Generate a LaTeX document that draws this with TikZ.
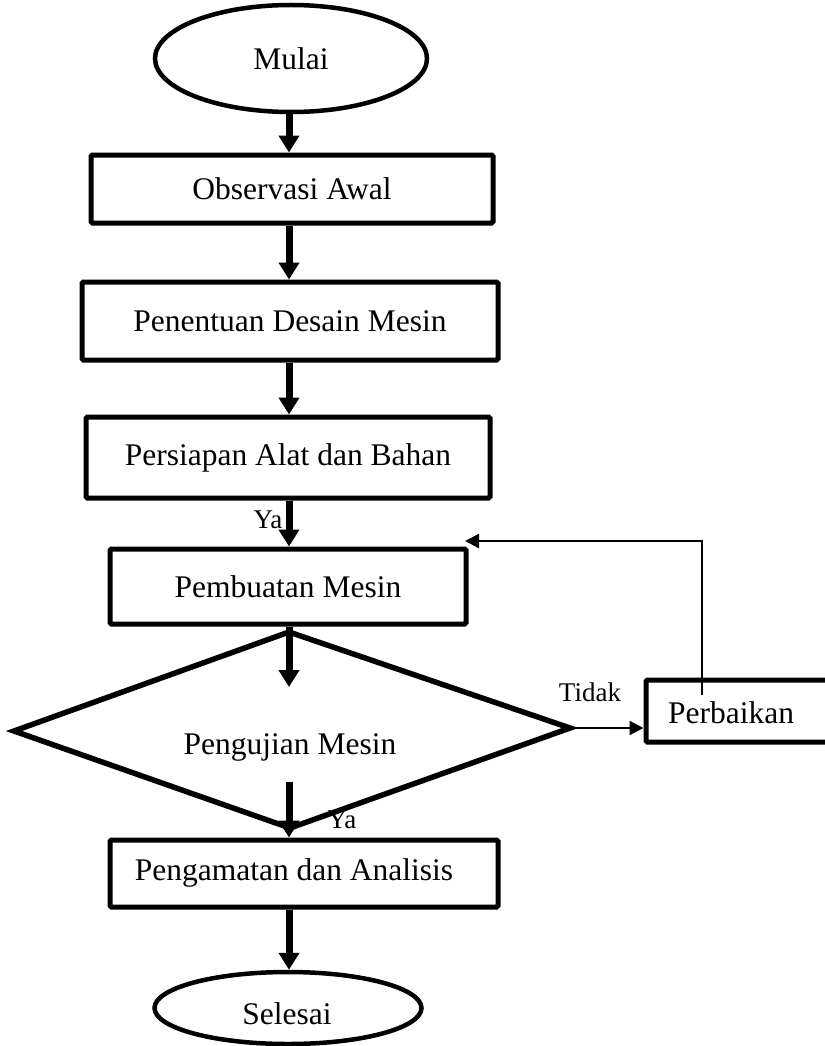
\documentclass[tikz,border=0pt]{standalone}
\usepackage{fontspec}
\setmainfont{Liberation Serif}
\usetikzlibrary{arrows.meta,shapes.geometric}
\begin{document}
\begin{tikzpicture}[x=1pt,y=-1pt,
  every node/.style={font=\fontsize{31.5}{36}\selectfont},
  procbox/.style={draw, line width=5pt, rounded corners=1.5pt, inner sep=0pt},
  term/.style={draw, ellipse, line width=4.5pt, inner sep=0pt},
  flow/.style={line width=7pt, -{Triangle[width=20pt,length=17pt]}},
  thinflow/.style={line width=2.2pt, -{Triangle[width=14pt,length=14pt]}},
  lbl/.style={font=\fontsize{27}{30}\selectfont, inner sep=0pt},
  txt/.style={inner sep=0pt}]
\useasboundingbox (0,0) rectangle (824,1046);
\coordinate (axis) at (289,0);

% terminals and process boxes
\node[term, minimum width=272, minimum height=107] (mulai) at (291,58.5) {Mulai};
\node[procbox, minimum width=402, minimum height=68] (obs) at (292,189) {Observasi Awal};
\node[procbox, minimum width=416, minimum height=78] (pen) at (290,321) {Penentuan Desain Mesin};
\node[procbox, minimum width=404, minimum height=81] (per) at (288,457.5) {Persiapan Alat dan Bahan};
\node[procbox, minimum width=356, minimum height=75] (pem) at (288,586.5) {Pembuatan Mesin};
\node[procbox, minimum width=388, minimum height=67] (pga) at (304,873.5) {};
\node[txt] (pgatext) at (294,873) {Pengamatan dan Analisis};
\node[procbox, minimum width=184, minimum height=62] (perb) at (738,711) {};
\node[txt] (perbtext) at (731,713) {Perbaikan};
\node[term, minimum width=267, minimum height=72] (sel) at (288,1008) {};
\node[txt] (seltext) at (287,1014) {Selesai};

% decision diamond
\coordinate (dtop) at (289,632);
\coordinate (dright) at (570,728);
\coordinate (dbot) at (290,828);
\coordinate (dleft) at (14,731);
\draw[line width=5.5pt, line join=miter] (dtop) -- (dright) -- (dbot) -- (dleft) -- cycle;
\node[txt] (dtext) at (290,747) {Pengujian Mesin};

% main flow arrows
\draw[flow] (mulai.south -| axis) -- (obs.north -| axis);
\draw[flow] (obs.south -| axis) -- (pen.north -| axis);
\draw[flow] (pen.south -| axis) -- (per.north -| axis);
\draw[flow] (per.south -| axis) -- (pem.north -| axis);
\coordinate (a5end) at (289,687);
\draw[flow] (pem.south -| axis) -- (a5end);
\coordinate (a6start) at (289,782);
\draw[flow] (a6start) -- (pga.north -| axis);
\draw[flow] (pga.south -| axis) -- (sel.north -| axis);

% No branch and feedback
\draw[thinflow] (dright) -- (dright -| perb.west);
\coordinate (fb) at (702,695);
\coordinate (ret) at (465,541);
\draw[thinflow] (fb) |- (ret);

% labels
\node[lbl] (ya1) at (268,520) {Ya};
\node[lbl] (ya2) at (342,820) {Ya};
\node[lbl] (tidak) at (590,692) {Tidak};
\end{tikzpicture}
\end{document}
